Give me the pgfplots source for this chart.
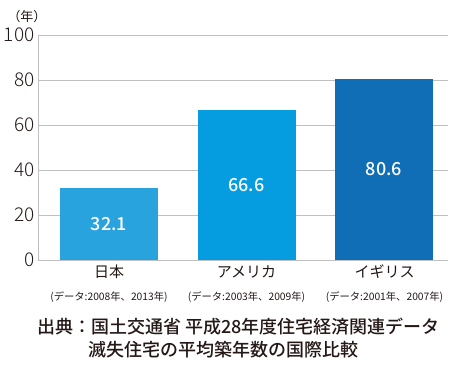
\documentclass[border=0pt]{standalone}
\usepackage{pgfplots}
\pgfplotsset{compat=1.18}
\usepackage{fontspec}
\setmainfont{Noto Sans CJK JP}
\newfontfamily\medfont{Noto Sans CJK JP Medium}
\newfontfamily\lightfont{Noto Sans CJK JP Light}
\definecolor{jp}{HTML}{29A3DD}
\definecolor{us}{HTML}{069DE0}
\definecolor{uk}{HTML}{0F6EB5}
\definecolor{txt}{HTML}{231815}
\definecolor{gridc}{HTML}{C0C0C0}
\begin{document}
\begin{tikzpicture}[x=1pt,y=1pt]
\useasboundingbox (0,0) rectangle (450,-373);
\begin{axis}[
  at={(38pt,-260pt)}, anchor=south west,
  scale only axis, width=410pt, height=225pt,
  xmin=-0.516, xmax=2.465, ymin=0, ymax=100,
  axis x line*=bottom, axis y line*=left,
  axis line style={gridc, line width=0.8pt, -},
  ytick={0,20,...,100}, xtick=\empty,
  ymajorgrids, major grid style={gridc, line width=0.8pt},
  major tick length=0pt,
  ybar, bar width=98pt, bar shift=0pt,
  yticklabel style={font=\fontsize{19}{19}\selectfont\lightfont, text=txt},
  /pgf/number format/assume math mode=true,
  clip=false,
]
\addplot[fill=jp, draw=none] coordinates {(0,32.1)};
\addplot[fill=us, draw=none] coordinates {(1,66.6)};
\addplot[fill=uk, draw=none] coordinates {(2,80.6)};
\node[text=white, font=\fontsize{18}{18}\selectfont\medfont] at (axis cs:0,16.05) {32.1};
\node[text=white, font=\fontsize{18}{18}\selectfont\medfont] at (axis cs:1,33.3) {66.6};
\node[text=white, font=\fontsize{18}{18}\selectfont\medfont] at (axis cs:2,40.3) {80.6};
\end{axis}
\node[text=txt, font=\fontsize{13}{13}\selectfont] at (27,-17) {（年）};
\node[text=txt, font=\fontsize{15}{15}\selectfont] at (109,-272) {日本};
\node[text=txt, font=\fontsize{15}{15}\selectfont] at (246.5,-272) {アメリカ};
\node[text=txt, font=\fontsize{15}{15}\selectfont] at (384.5,-272) {イギリス};
\node[text=txt, font=\fontsize{10.3}{10.3}\selectfont] at (109,-297) {(データ:2008年、2013年)};
\node[text=txt, font=\fontsize{10.3}{10.3}\selectfont] at (246.5,-297) {(データ:2003年、2009年)};
\node[text=txt, font=\fontsize{10.3}{10.3}\selectfont] at (384.5,-297) {(データ:2001年、2007年)};
\node[text=txt, anchor=west, inner sep=0pt, font=\fontsize{18}{18}\selectfont\medfont] at (37,-327) {出典：国土交通省 平成28年度住宅経済関連データ};
\node[text=txt, anchor=west, inner sep=0pt, font=\fontsize{18}{18}\selectfont\medfont] at (88,-350) {滅失住宅の平均築年数の国際比較};
\end{tikzpicture}
\end{document}
